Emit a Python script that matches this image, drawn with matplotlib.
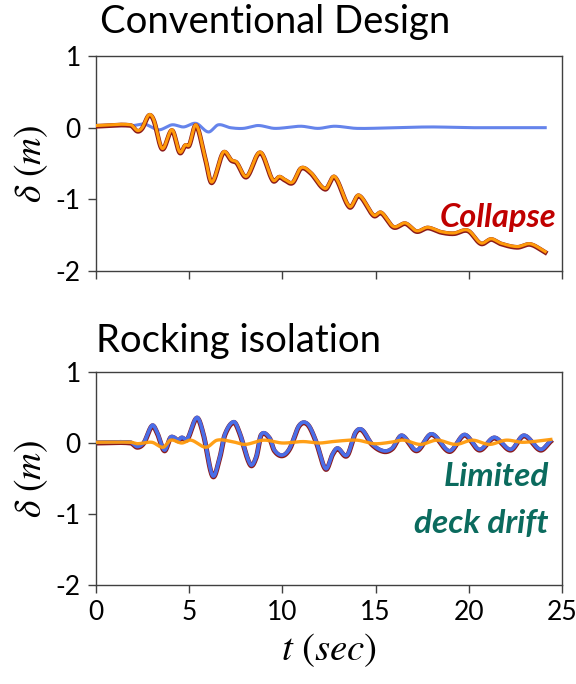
import matplotlib
matplotlib.use("Agg")
import matplotlib.pyplot as plt
import numpy as np

plt.rcParams['font.family'] = ['Lato', 'DejaVu Sans']
plt.rcParams['mathtext.fontset'] = 'stix'

# Conventional design: deck drift (orange over dark red) and bearing/pier (blue)
conv_t = [0.05, 1.86, 2.22, 2.48, 2.84, 3.10, 3.55, 4.08, 4.49, 4.79, 5.0, 5.37, 5.85, 6.21,
          6.83, 7.27, 7.54, 8.07, 8.81, 9.49, 9.84, 10.11, 10.55, 11.0, 11.5, 12.3, 12.8,
          13.6, 14.1, 14.9, 15.3, 15.96, 16.6, 17.2, 17.8, 18.5, 19.2, 19.95, 20.65, 21.2,
          21.7, 22.6, 23.3, 24.1]
conv_d = [0.03, 0.04, -0.04, 0.00, 0.18, 0.11, -0.29, -0.03, -0.34, -0.24, -0.24, 0.04, -0.41,
          -0.76, -0.34, -0.45, -0.48, -0.68, -0.34, -0.73, -0.68, -0.72, -0.76, -0.56, -0.62,
          -0.85, -0.68, -1.10, -0.94, -1.22, -1.18, -1.38, -1.33, -1.44, -1.39, -1.45, -1.47,
          -1.43, -1.61, -1.55, -1.61, -1.66, -1.62, -1.73]
conv_bt = [0.05, 2.0, 2.6, 3.37, 4.08, 4.7, 5.37, 6.03, 6.56, 7.2, 7.9, 8.7, 9.6, 10.98, 11.9,
           12.8, 14.0, 16.0, 18.0, 20.0, 22.0, 24.1]
conv_bd = [0.03, 0.03, 0.05, -0.03, 0.04, 0.01, 0.06, -0.06, 0.04, 0.00, -0.01, 0.03, -0.01,
           0.02, -0.01, 0.02, -0.01, 0.00, 0.01, 0.00, 0.00, 0.00]

# Rocking isolation: pier/rocking response (blue over dark red) and deck drift (orange)
rock_t = [0.05, 1.86, 2.22, 2.57, 3.01, 3.28, 3.67, 3.99, 4.2, 4.4, 4.6, 4.9, 5.41, 5.76, 6.26,
          6.65, 6.91, 7.39, 7.7, 8.28, 8.6, 8.86, 9.3, 9.57, 10.0, 10.4, 10.9, 11.35, 11.8,
          12.32, 12.7, 12.96, 13.47, 13.92, 14.27, 14.8, 15.43, 15.9, 16.4, 17.2, 18.0, 18.97,
          19.77, 20.57, 21.37, 22.25, 22.96, 23.84, 24.38]
rock_d = [0.01, 0.01, -0.05, 0.01, 0.25, 0.15, -0.10, 0.08, 0.08, 0.04, 0.08, 0.06, 0.36, 0.13,
          -0.46, -0.19, 0.12, 0.30, 0.15, -0.30, -0.19, 0.12, 0.08, -0.10, -0.17, -0.07, 0.25,
          0.27, 0.03, -0.36, -0.15, -0.07, -0.17, 0.15, 0.19, -0.01, -0.11, -0.07, 0.11, -0.10,
          0.13, -0.11, 0.12, -0.09, 0.08, -0.09, 0.11, -0.09, 0.03]
rock_ot = [0.05, 1.86, 2.22, 3.0, 3.6, 4.0, 4.6, 5.1, 5.9, 6.5, 7.3, 8.0, 9.0, 10.0, 11.1, 12.0,
           12.7, 14.0, 14.9, 15.8, 16.5, 17.4, 18.3, 19.3, 20.2, 21.1, 22.0, 22.9, 24.4]
rock_od = [0.01, 0.01, -0.01, 0.01, -0.06, 0.04, 0.00, 0.04, -0.06, 0.04, 0.02, -0.02, 0.04,
           0.00, 0.02, 0.00, 0.02, 0.04, -0.01, 0.01, 0.04, -0.02, 0.04, -0.02, 0.04, -0.02,
           0.04, 0.01, 0.05]

xticks = [0, 5, 10, 15, 20, 25]
yticks = [1, 0, -1, -2]

BLUE = '#4a6ee8'
ORANGE = '#ff9a0a'
DARKRED = '#8b1a1a'

fig = plt.figure(figsize=(5.76, 6.84), dpi=100)
ax1 = fig.add_axes([96/576, 1 - 271/684, (562-96)/576, (271-56)/684])
ax2 = fig.add_axes([96/576, 1 - 585/684, (562-96)/576, (585-372)/684])

def smooth(t, d):
    # Catmull-Rom style Hermite curve through the read points
    t = np.asarray(t, float); d = np.asarray(d, float)
    tt = np.linspace(t[0], t[-1], 1200)
    out = np.empty_like(tt)
    for k, x in enumerate(tt):
        i = np.searchsorted(t, x) - 1
        i = min(max(i, 0), len(t) - 2)
        p0 = d[max(i-1, 0)]; p1 = d[i]; p2 = d[i+1]; p3 = d[min(i+2, len(t)-1)]
        t0 = t[max(i-1, 0)]; t1 = t[i]; t2 = t[i+1]; t3 = t[min(i+2, len(t)-1)]
        h = t2 - t1
        m1 = (p2 - p0) / (t2 - t0) * h if t2 != t0 else 0
        m2 = (p3 - p1) / (t3 - t1) * h if t3 != t1 else 0
        s = (x - t1) / h
        h00 = 2*s**3 - 3*s**2 + 1; h10 = s**3 - 2*s**2 + s
        h01 = -2*s**3 + 3*s**2; h11 = s**3 - s**2
        out[k] = h00*p1 + h10*m1 + h01*p2 + h11*m2
    return tt, out

tt, dd = smooth(conv_bt, conv_bd)
ax1.plot(tt, dd, color=BLUE, lw=2.2, alpha=0.85, zorder=2)
tt, dd = smooth(conv_t, conv_d)
ax1.plot(tt, dd - 0.01, color=DARKRED, lw=3.4, zorder=3)
ax1.plot(tt, dd, color=ORANGE, lw=2.2, zorder=4)

tt, dd = smooth(rock_t, rock_d)
ax2.plot(tt, dd - 0.01, color=DARKRED, lw=3.6, zorder=2)
ax2.plot(tt, dd, color=BLUE, lw=2.6, zorder=3)
tt, dd = smooth(rock_ot, rock_od)
ax2.plot(tt, dd, color=ORANGE, lw=2.4, alpha=0.95, zorder=4)

for ax in (ax1, ax2):
    ax.set_xlim(0, 25)
    ax.set_ylim(-2, 1)
    ax.set_xticks(xticks)
    ax.set_yticks(yticks)
    ax.set_yticklabels([str(v) for v in yticks])
    ax.tick_params(axis='both', direction='out', length=6, width=1.0, color='#404040',
                   labelsize=19, pad=5)
    for s in ax.spines.values():
        s.set_color('#404040')
        s.set_linewidth(1.0)
    ax.set_ylabel(r'$\delta\ (m)$', fontsize=27, labelpad=4)

ax1.set_xticklabels([])
ax2.set_xticklabels([str(v) for v in xticks])
ax2.set_xlabel(r'$t\ (sec)$', fontsize=28, labelpad=4)

fig.text(100/576, 1 - 33/684, 'Conventional Design', fontsize=27.5, ha='left', va='baseline')
fig.text(96/576, 1 - 352/684, 'Rocking isolation', fontsize=27.5, ha='left', va='baseline')

ax1.text(24.7, -1.25, 'Collapse', color='#c00000', fontsize=23.5, fontweight='bold',
         fontstyle='italic', ha='right', va='center')
ax2.text(24.3, -0.47, 'Limited', color='#0b6b5e', fontsize=24, fontweight='bold',
         fontstyle='italic', ha='right', va='center')
ax2.text(24.3, -1.13, 'deck drift', color='#0b6b5e', fontsize=24, fontweight='bold',
         fontstyle='italic', ha='right', va='center')

fig.savefig('out.png', dpi=100)
